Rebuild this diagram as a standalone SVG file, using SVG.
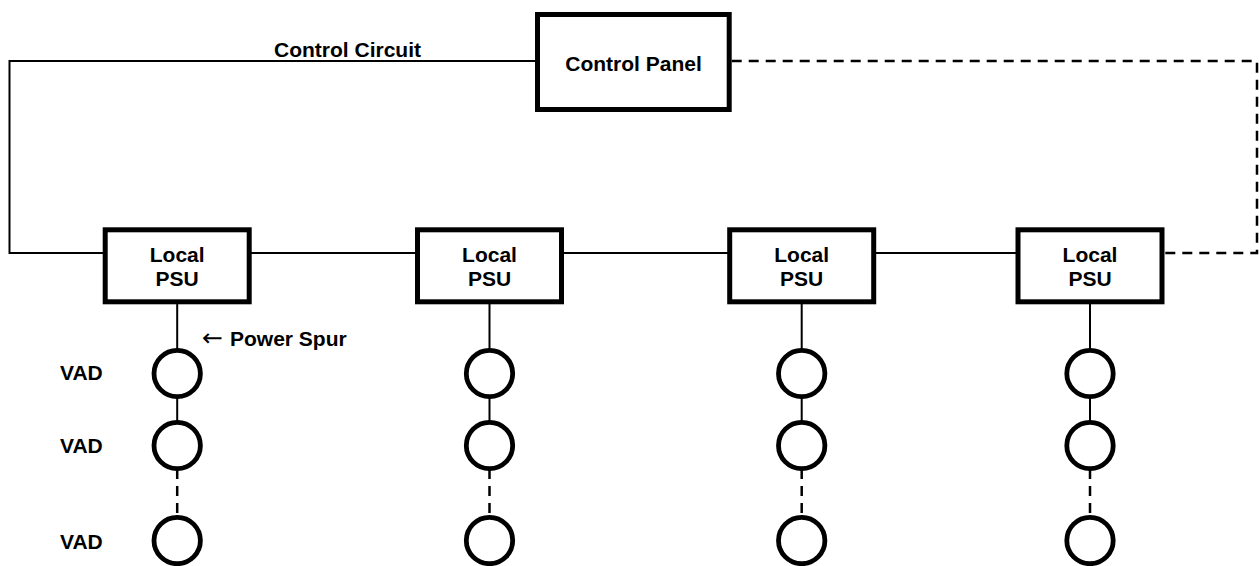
<svg xmlns="http://www.w3.org/2000/svg" width="1259" height="566" viewBox="0 0 1259 566">
<style>
text{font-family:"Liberation Sans",Arial,sans-serif;font-weight:bold;font-size:21px;fill:#000}
.box{fill:#fff;stroke:#000;stroke-width:5}
.vad{fill:#fff;stroke:#000;stroke-width:4.8}
.ln{fill:none;stroke:#000;stroke-width:2}
.dash{fill:none;stroke:#000;stroke-width:2.5;stroke-dasharray:10 7}
.vdash{fill:none;stroke:#000;stroke-width:2.5;stroke-dasharray:10 7}
.c{text-anchor:middle}
.arrow{font-family:"DejaVu Sans",sans-serif;font-weight:normal;font-size:24px}
</style>
<rect width="1259" height="566" fill="#fff"/>
<g id="connectors">
<path class="ln" d="M537.5 61 H9.5 V253 H105"/>
<path class="ln" d="M249 253 H417.5"/>
<path class="ln" d="M561.5 253 H729.7"/>
<path class="ln" d="M873.7 253 H1018"/>
<path class="dash" d="M731.7 61 H1257 V253 H1162"/>
<path class="ln" d="M177.2 304 V350 M177.2 397 V422"/>
<path class="vdash" d="M177.2 469 V518"/>
<path class="ln" d="M489.5 304 V350 M489.5 397 V422"/>
<path class="vdash" d="M489.5 469 V518"/>
<path class="ln" d="M801.7 304 V350 M801.7 397 V422"/>
<path class="vdash" d="M801.7 469 V518"/>
<path class="ln" d="M1090 304 V350 M1090 397 V422"/>
<path class="vdash" d="M1090 469 V518"/>
</g>
<text id="label-control-circuit" class="c" x="347.5" y="57">Control Circuit</text>
<g id="control-panel">
<rect class="box" x="537.5" y="14.5" width="191.7" height="95"/>
<text class="c" x="633.5" y="71">Control Panel</text>
</g>
<g id="psu1">
<rect class="box" x="105.2" y="229.8" width="144" height="72"/>
<text class="c" x="177.2" y="262">Local</text>
<text class="c" x="177.2" y="286">PSU</text>
</g>
<g id="psu2">
<rect class="box" x="417.5" y="229.8" width="144" height="72"/>
<text class="c" x="489.5" y="262">Local</text>
<text class="c" x="489.5" y="286">PSU</text>
</g>
<g id="psu3">
<rect class="box" x="729.7" y="229.8" width="144" height="72"/>
<text class="c" x="801.7" y="262">Local</text>
<text class="c" x="801.7" y="286">PSU</text>
</g>
<g id="psu4">
<rect class="box" x="1018" y="229.8" width="144" height="72"/>
<text class="c" x="1090" y="262">Local</text>
<text class="c" x="1090" y="286">PSU</text>
</g>
<text id="label-power-spur" x="202" y="345.7"><tspan class="arrow" textLength="21" lengthAdjust="spacingAndGlyphs">←</tspan><tspan x="230">Power Spur</tspan></text>
<g id="vad-col1">
<circle class="vad" cx="177.2" cy="373.5" r="23.2"/>
<circle class="vad" cx="177.2" cy="445.5" r="23.2"/>
<circle class="vad" cx="177.2" cy="540.5" r="23.2"/>
</g>
<g id="vad-col2">
<circle class="vad" cx="489.5" cy="373.5" r="23.2"/>
<circle class="vad" cx="489.5" cy="445.5" r="23.2"/>
<circle class="vad" cx="489.5" cy="540.5" r="23.2"/>
</g>
<g id="vad-col3">
<circle class="vad" cx="801.7" cy="373.5" r="23.2"/>
<circle class="vad" cx="801.7" cy="445.5" r="23.2"/>
<circle class="vad" cx="801.7" cy="540.5" r="23.2"/>
</g>
<g id="vad-col4">
<circle class="vad" cx="1090" cy="373.5" r="23.2"/>
<circle class="vad" cx="1090" cy="445.5" r="23.2"/>
<circle class="vad" cx="1090" cy="540.5" r="23.2"/>
</g>
<g id="vad-labels">
<text x="60" y="380">VAD</text>
<text x="60" y="453">VAD</text>
<text x="60" y="549">VAD</text>
</g>
</svg>
